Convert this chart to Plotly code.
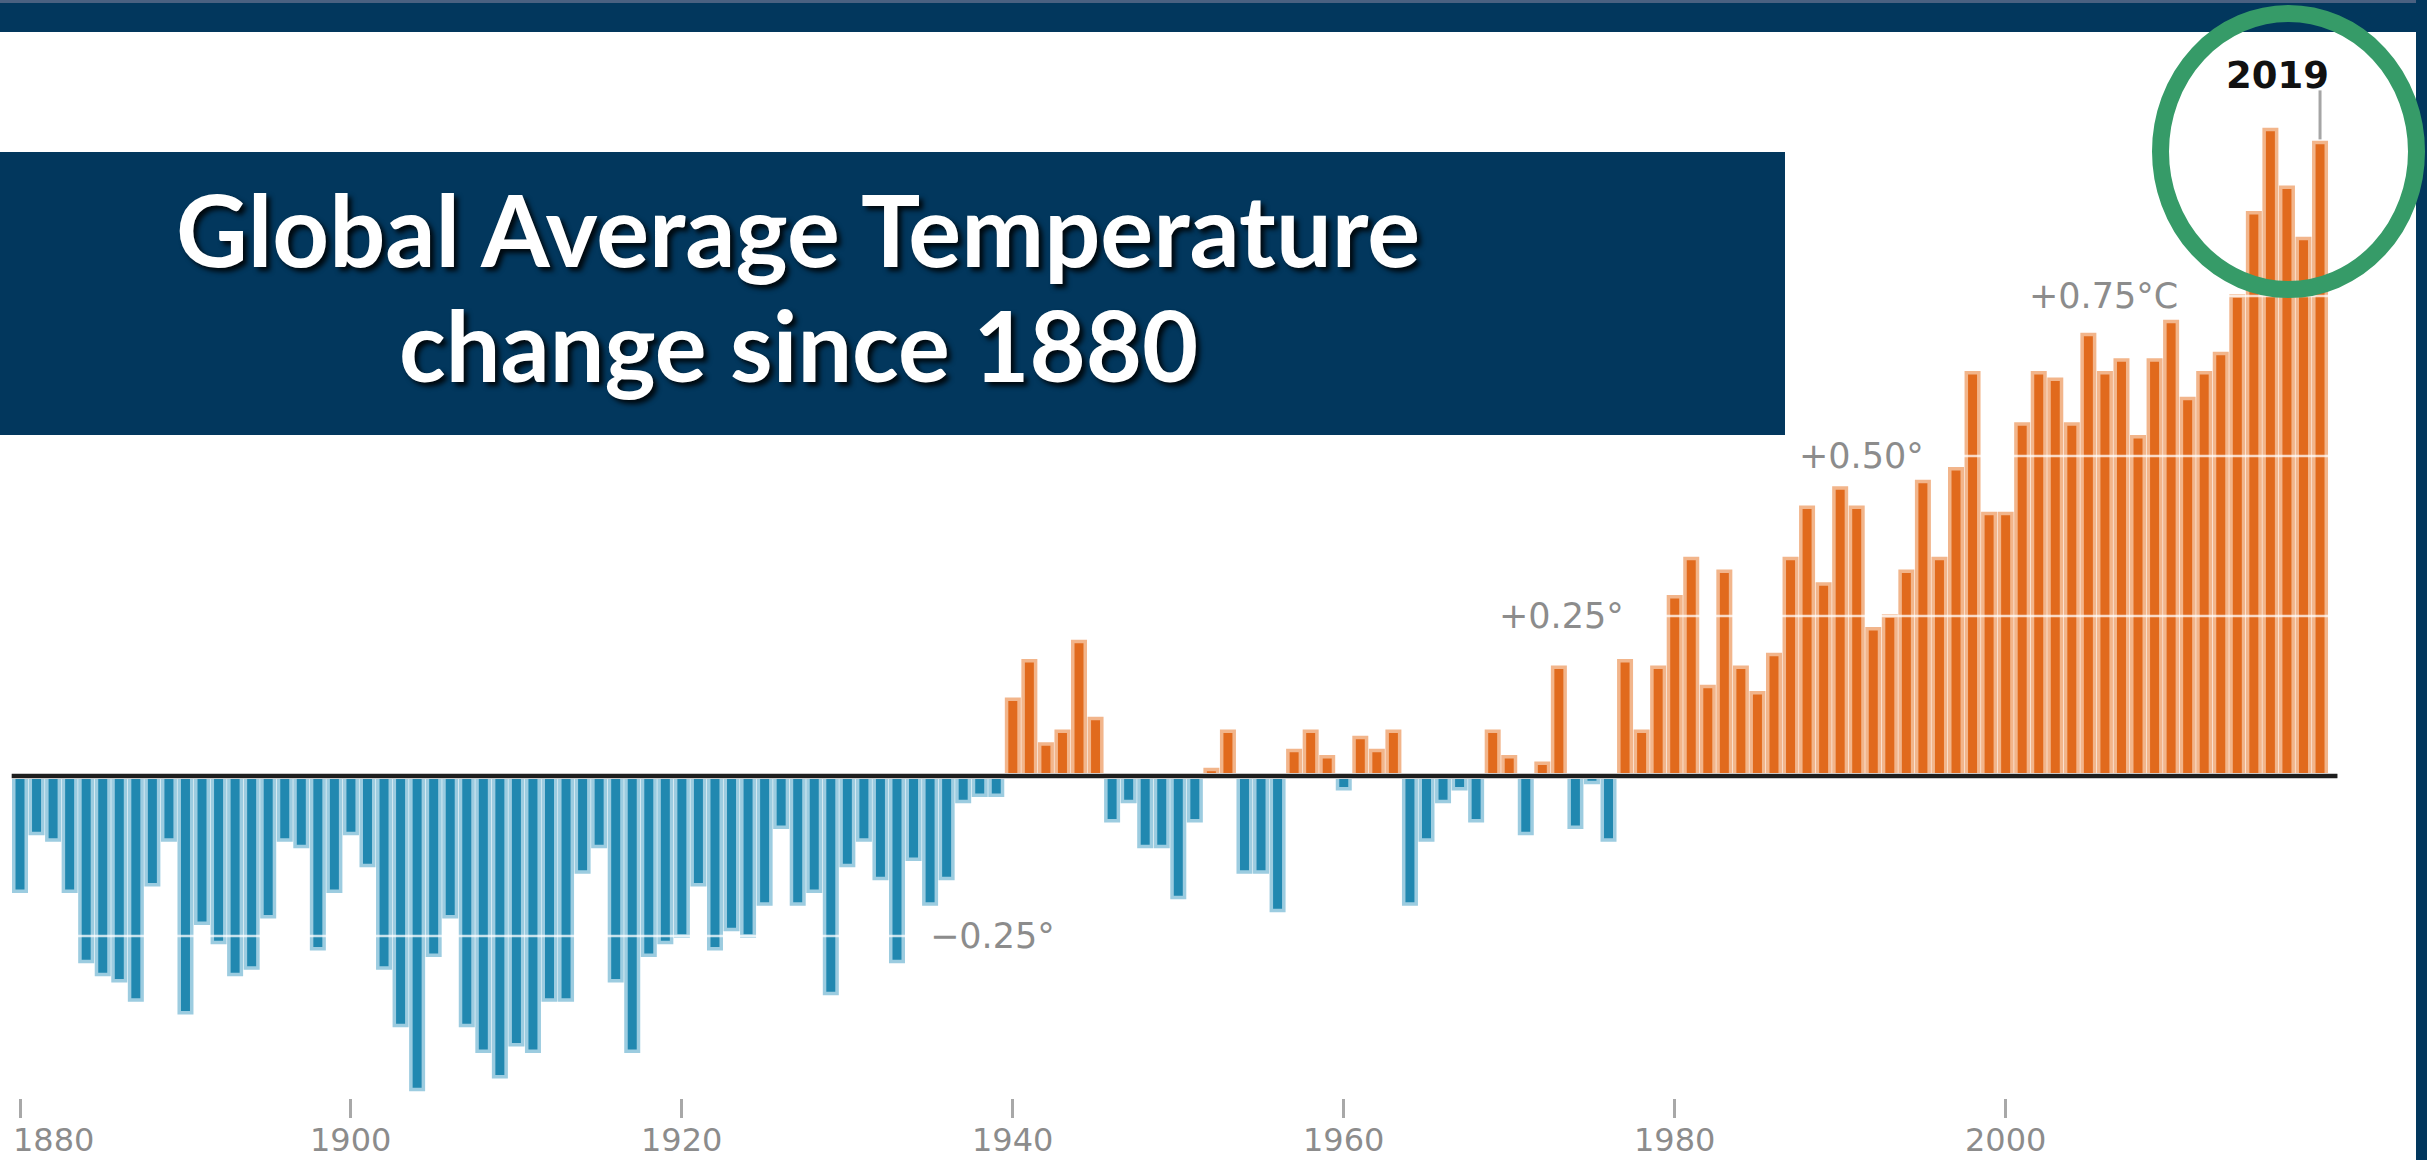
import plotly.graph_objects as go

# ---------------- data ----------------
years = list(range(1880, 2020))
anomaly = [
    -0.18, -0.09, -0.10, -0.18, -0.29, -0.31, -0.32, -0.35, -0.17, -0.10,   # 1880s
    -0.37, -0.23, -0.26, -0.31, -0.30, -0.22, -0.10, -0.11, -0.27, -0.18,   # 1890s
    -0.09, -0.14, -0.30, -0.39, -0.49, -0.28, -0.22, -0.39, -0.43, -0.47,   # 1900s
    -0.42, -0.43, -0.35, -0.35, -0.15, -0.11, -0.32, -0.43, -0.28, -0.26,   # 1910s
    -0.25, -0.17, -0.27, -0.24, -0.25, -0.20, -0.08, -0.20, -0.18, -0.34,   # 1920s
    -0.14, -0.10, -0.16, -0.29, -0.13, -0.20, -0.16, -0.04, -0.03, -0.03,   # 1930s
    0.12, 0.18, 0.05, 0.07, 0.21, 0.09, -0.07, -0.04, -0.11, -0.11,         # 1940s
    -0.19, -0.07, 0.01, 0.07, -0.15, -0.15, -0.21, 0.04, 0.07, 0.03,        # 1950s
    -0.02, 0.06, 0.04, 0.07, -0.20, -0.10, -0.04, -0.02, -0.07, 0.07,       # 1960s
    0.03, -0.09, 0.02, 0.17, -0.08, -0.01, -0.10, 0.18, 0.07, 0.17,         # 1970s
    0.28, 0.34, 0.14, 0.32, 0.17, 0.13, 0.19, 0.34, 0.42, 0.30,             # 1980s
    0.45, 0.42, 0.23, 0.25, 0.32, 0.46, 0.34, 0.48, 0.63, 0.41,             # 1990s
    0.41, 0.55, 0.63, 0.62, 0.55, 0.69, 0.63, 0.65, 0.53, 0.65,             # 2000s
    0.71, 0.59, 0.63, 0.66, 0.75, 0.88, 1.01, 0.92, 0.84, 0.99,             # 2010s
]
tick_years = [1880, 1900, 1920, 1940, 1960, 1980, 2000]
tick_labels = ["1880", "1900", "1920", "1940", "1960", "1980", "2000"]
grid_values = [-0.25, 0.25, 0.50, 0.75]
grid_labels = ["−0.25°", "+0.25°", "+0.50°", "+0.75°C"]
grid_label_x = [1934.9, 1969.25, 1987.4, 2001.3]
title_lines = ["Global Average Temperature", "change since 1880"]
highlight_label = "2019"

# ---------------- layout geometry ----------------
W, H = 2427, 1160
ML, MR, MT, MB = 0, 0, 0, 62
PW, PH = W - ML - MR, H - MT - MB
PX_PER_YEAR = 16.547
PX_PER_DEG = 640.0
ZERO_PX = 776.0
FIRST_PX = 20.0


def px_x(px):
    return (px - ML) / PW


def px_y(py):
    return (MT + PH - py) / PH


x_range = [years[0] - (FIRST_PX - ML) / PX_PER_YEAR,
           years[0] + (W - MR - FIRST_PX) / PX_PER_YEAR]
y_range = [-(MT + PH - ZERO_PX) / PX_PER_DEG, (ZERO_PX - MT) / PX_PER_DEG]

NAVY = "#02375D"
ORANGE, ORANGE_EDGE = "#E16A1D", "#F2B58B"
BLUE, BLUE_EDGE = "#2188B0", "#9CCCE0"
LABEL_GRAY = "#8C8C8C"

bar_colors = [ORANGE if v >= 0 else BLUE for v in anomaly]
edge_colors = [ORANGE_EDGE if v >= 0 else BLUE_EDGE for v in anomaly]

fig = go.Figure()
fig.add_trace(go.Bar(
    x=years, y=anomaly, width=0.755,
    marker=dict(color=bar_colors, line=dict(color=edge_colors, width=3.5)),
    hoverinfo="x+y", showlegend=False,
))

shapes = []
# white gridlines across the bars
for v in grid_values:
    shapes.append(dict(type="line", xref="paper", yref="y", x0=0, x1=1, y0=v, y1=v,
                       line=dict(color="rgba(255,255,255,0.75)", width=2.5), layer="above"))
# zero baseline
shapes.append(dict(type="line", xref="x", yref="y", x0=years[0] - 0.5, x1=years[-1] + 1.05,
                   y0=0, y1=0, line=dict(color="#C8C8C8", width=6), layer="above"))
shapes.append(dict(type="line", xref="x", yref="y", x0=years[0] - 0.5, x1=years[-1] + 1.05,
                   y0=0, y1=0, line=dict(color="#1E1E1E", width=4), layer="above"))
# leader line for highlighted year
shapes.append(dict(type="line", xref="x", yref="y", ysizemode="pixel", yanchor=anomaly[-1],
                   x0=years[-1], x1=years[-1], y0=3, y1=52,
                   line=dict(color="#A5A5A5", width=3), layer="above"))
# title box
shapes.append(dict(type="rect", xref="paper", yref="paper",
                   x0=px_x(-5), x1=px_x(1785), y0=px_y(435), y1=px_y(152),
                   fillcolor=NAVY, line=dict(width=0), layer="above"))
# navy frame: top band and right border
shapes.append(dict(type="rect", xref="paper", yref="paper",
                   x0=px_x(-5), x1=px_x(W + 5), y0=px_y(32), y1=px_y(-5),
                   fillcolor=NAVY, line=dict(width=0), layer="above"))
shapes.append(dict(type="rect", xref="paper", yref="paper",
                   x0=px_x(-5), x1=px_x(W + 5), y0=px_y(3), y1=px_y(-5),
                   fillcolor="#4A6181", line=dict(width=0), layer="above"))
shapes.append(dict(type="rect", xref="paper", yref="paper",
                   x0=px_x(2416), x1=px_x(W + 5), y0=px_y(H + 5), y1=px_y(-5),
                   fillcolor=NAVY, line=dict(width=0), layer="above"))
# green highlight circle
cx, cy, rx, ry = 2288.5, 151.5, 128, 138
shapes.append(dict(type="circle", xref="paper", yref="paper",
                   x0=px_x(cx - rx), x1=px_x(cx + rx), y0=px_y(cy + ry), y1=px_y(cy - ry),
                   line=dict(color="#369B68", width=17), fillcolor="rgba(0,0,0,0)", layer="above"))

annotations = []
title_fonts = [
    dict(family="Lato", size=99, color="white", weight="bold",
         shadow="4px 4px 5px rgba(0,0,0,0.85)"),
    dict(family="Lato", size=97, color="white", weight="bold",
         shadow="4px 4px 5px rgba(0,0,0,0.85)"),
]
for line_text, py, tf in zip(title_lines, [229, 344], title_fonts):
    annotations.append(dict(text=line_text, xref="paper", yref="paper",
                            x=px_x(798), y=px_y(py), xanchor="center", yanchor="middle",
                            showarrow=False, font=tf))
for lbl, gx, gv in zip(grid_labels, grid_label_x, grid_values):
    annotations.append(dict(text=lbl, xref="x", yref="y", x=gx, y=gv,
                            xanchor="left", yanchor="middle", showarrow=False,
                            font=dict(family="DejaVu Sans", size=35, color=LABEL_GRAY)))
for i, (ty, tl) in enumerate(zip(tick_years, tick_labels)):
    annotations.append(dict(text=tl, xref="x", yref="paper", x=ty, y=0, yshift=-42,
                            xanchor="left" if i == 0 else "center",
                            xshift=-9 if i == 0 else 0,
                            yanchor="middle", showarrow=False,
                            font=dict(family="DejaVu Sans", size=32, color=LABEL_GRAY)))
annotations.append(dict(text=highlight_label, xref="x", yref="y", x=years[-1], y=anomaly[-1],
                        xshift=-43, yshift=67, xanchor="center", yanchor="middle",
                        showarrow=False,
                        font=dict(family="DejaVu Sans", size=37, color="#111111", weight="bold")))

fig.update_layout(
    width=W, height=H,
    margin=dict(l=ML, r=MR, t=MT, b=MB, pad=0),
    paper_bgcolor="white", plot_bgcolor="white",
    shapes=shapes, annotations=annotations,
    xaxis=dict(range=x_range, tickvals=tick_years, ticks="outside", ticklen=19,
               tickwidth=2.5, tickcolor="#A8A8A8", showticklabels=False,
               showgrid=False, zeroline=False, showline=False, fixedrange=True),
    yaxis=dict(range=y_range, visible=False, showgrid=False, zeroline=False, fixedrange=True),
    showlegend=False,
)

fig.write_html("out.html", config={"displayModeBar": False},
               post_script="document.body.style.margin='0';document.body.style.overflow='hidden';")
